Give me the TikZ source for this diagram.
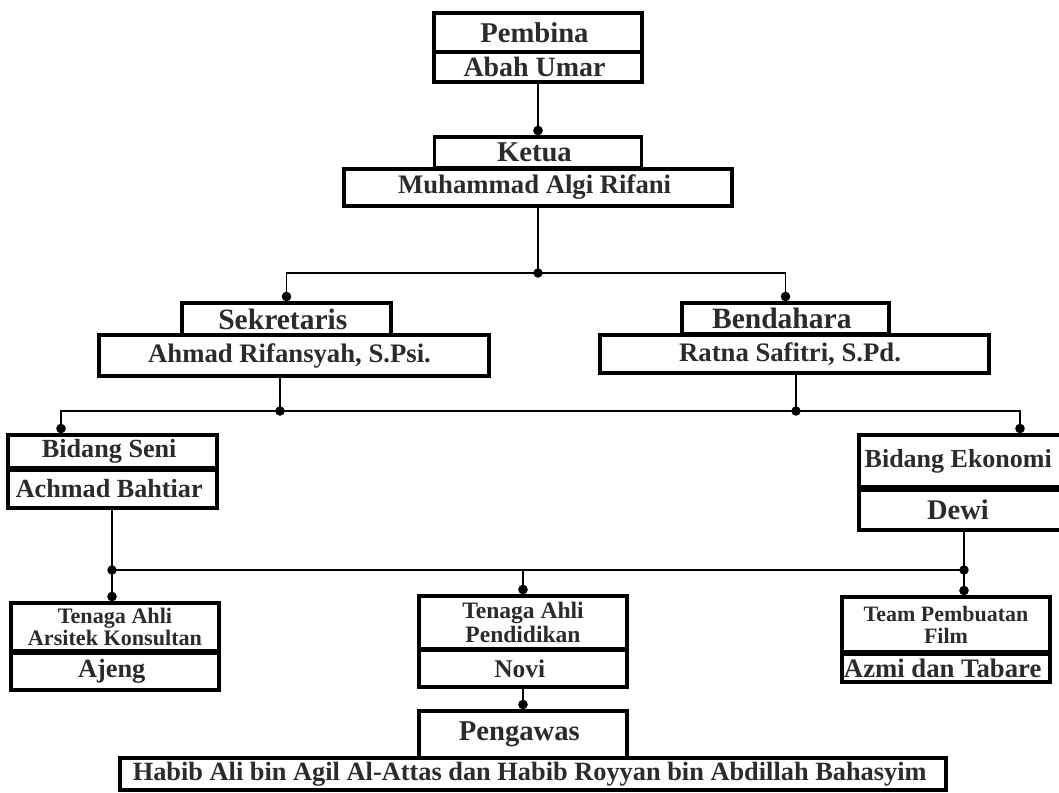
\documentclass[tikz,border=0pt]{standalone}
\usepackage{fontspec}
\setmainfont{Liberation Serif}
\usetikzlibrary{positioning,calc,arrows.meta}
\definecolor{tinta}{HTML}{2B2B2B}
\tikzstyle{kotak} = [ draw, rectangle, line width = 2pt, inner sep = 0pt, text = tinta, align = center ]
\tikzstyle{garis} = [ line width = 1.1pt ]
\tikzstyle{edge} = [ garis, -{Circle[length=5.4pt]} ]
\tikzstyle{cabang} = [ garis, {Circle[length=5.4pt]}-{Circle[length=5.4pt]} ]
\tikzset{fs/.style = { font = \fontsize{#1}{#1}\selectfont\bfseries }}
\newcommand{\titik}[1]{\fill (#1) circle [radius = 2.7pt];}

\begin{document}
\begin{tikzpicture}[x=0.02cm, y=-0.02cm]
	\useasboundingbox ( 0, 0 ) rectangle ( 1059, 792 );

	% pembina dan ketua
	\node[kotak, fs=16.3, minimum width=4.16cm, minimum height=0.78cm] (pembina) at ( 538, 32.5 ) { Pembina };
	\node[kotak, fs=15.9, minimum width=4.16cm, minimum height=0.6cm] (abah) at ( 538, 67 ) { Abah Umar };
	\node[kotak, fs=16.3, minimum width=4.14cm, minimum height=0.62cm] (ketua) at ( 538, 152.5 ) { Ketua };
	\node[kotak, fs=15.2, minimum width=7.76cm, minimum height=0.74cm] (algi) at ( 538, 187.5 ) { Muhammad Algi Rifani };

	% sekretaris dan bendahara
	\node[kotak, fs=16.8, minimum width=4.18cm, minimum height=0.64cm] (sekre) at ( 286.5, 319 ) { Sekretaris };
	\node[kotak, fs=15.2, minimum width=7.8cm, minimum height=0.82cm] (ahmad) at ( 294, 355.5 ) { Ahmad Rifansyah, S.Psi. };
	\node[kotak, fs=16.8, minimum width=4.14cm, minimum height=0.62cm] (benda) at ( 785.5, 318.5 ) { Bendahara };
	\node[kotak, fs=15.2, minimum width=7.78cm, minimum height=0.76cm] (ratna) at ( 794.5, 354 ) { Ratna Safitri, S.Pd. };

	% bidang
	\node[kotak, fs=14.9, minimum width=4.18cm, minimum height=0.66cm] (seni) at ( 112.5, 451.5 ) { Bidang Seni };
	\node[kotak, fs=14.9, minimum width=4.18cm, minimum height=0.76cm] (bahtiar) at ( 112.5, 489 ) { Achmad Bahtiar };
	\node[kotak, fs=14.8, minimum width=4.1cm, minimum height=1.04cm] (ekonomi) at ( 961.5, 461 ) { Bidang Ekonomi };
	\node[kotak, fs=16.2, minimum width=4.1cm, minimum height=0.8cm] (dewi) at ( 961.5, 510 ) { Dewi };

	% tenaga ahli dan team
	\node[kotak, fs=12.6, minimum width=4.16cm, minimum height=0.96cm] (arsitek) at ( 115, 627 ) { Tenaga Ahli\\Arsitek Konsultan };
	\node[kotak, fs=15, minimum width=4.16cm, minimum height=0.74cm] (ajeng) at ( 115, 671.5 ) { Ajeng };
	\node[kotak, fs=13.4, minimum width=4.16cm, minimum height=1.06cm] (pendidikan) at ( 523, 622.5 ) { Tenaga Ahli\\Pendidikan };
	\node[kotak, fs=14.5, minimum width=4.16cm, minimum height=0.74cm] (novi) at ( 523, 668.5 ) { Novi };
	\node[kotak, fs=12.5, minimum width=4.16cm, minimum height=1.1cm] (film) at ( 946, 624.5 ) { Team Pembuatan\\Film };
	\node[kotak, fs=15.2, minimum width=4.16cm, minimum height=0.56cm] (azmi) at ( 946, 668 ) { Azmi dan Tabare };

	% pengawas
	\node[kotak, fs=16.3, minimum width=4.16cm, minimum height=0.94cm] (pengawas) at ( 523, 734.5 ) { Pengawas };
	\node[kotak, fs=15, minimum width=16.52cm, minimum height=0.64cm] (habib) at ( 533, 774 ) { Habib Ali bin Agil Al-Attas dan Habib Royyan bin Abdillah Bahasyim };

	\coordinate (j1) at ( 538, 273 );
	\coordinate (j2) at ( 280, 411 );
	\coordinate (j3) at ( 796, 411 );
	\coordinate (kiri) at ( 61, 411 );
	\coordinate (kanan) at ( 1020, 411 );
	\coordinate (j4) at ( 112, 570 );
	\coordinate (j5) at ( 964, 570 );

	\draw[edge](abah.south) -- (ketua.north);
	\draw[garis](algi.south) -- (j1);
	\draw[cabang](sekre.north) -- (sekre.north |- j1) -- (benda.north |- j1) -- (benda.north);
	\titik{j1}

	\draw[garis](j2 |- ahmad.south) -- (j2);
	\draw[garis](j3 |- ratna.south) -- (j3);
	\draw[cabang](kiri |- seni.north) -- (kiri) -- (kanan) -- (kanan |- ekonomi.north);
	\titik{j2}
	\titik{j3}

	\draw[garis](j4 |- bahtiar.south) -- (j4);
	\draw[garis](j5 |- dewi.south) -- (j5);
	\draw[garis](j4) -- (j5);
	\draw[edge](j4) -- (j4 |- arsitek.north);
	\draw[edge](pendidikan.north |- j4) -- (pendidikan.north);
	\draw[edge](j5) -- (j5 |- film.north);
	\titik{j4}
	\titik{j5}

	\draw[edge](novi.south) -- (pengawas.north);
\end{tikzpicture}
\end{document}
